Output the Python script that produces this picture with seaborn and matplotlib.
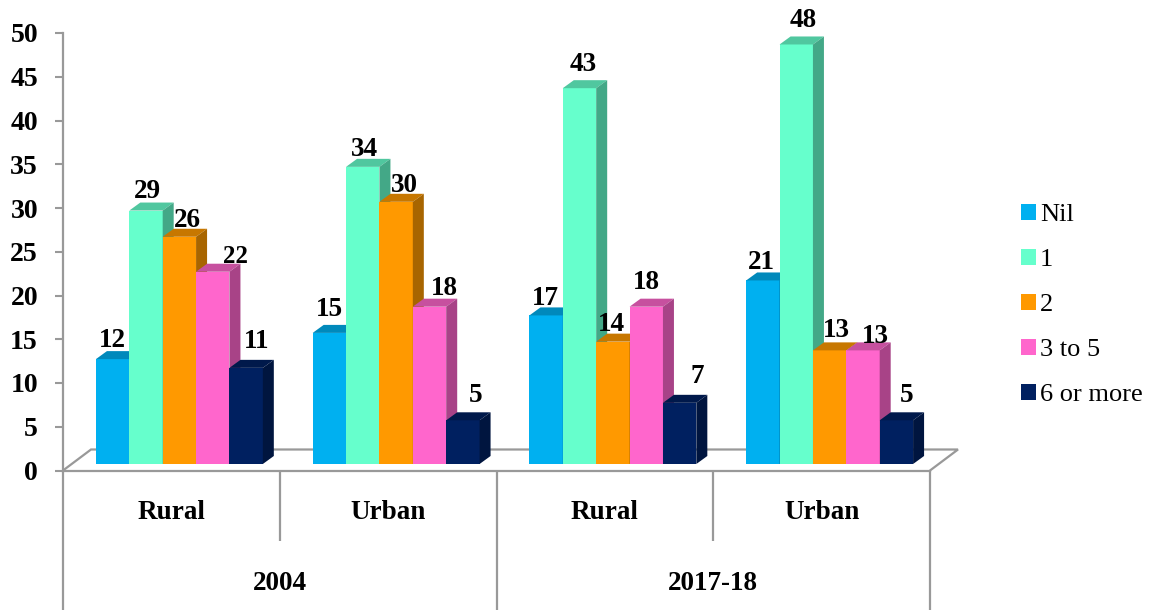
import matplotlib
matplotlib.use('Agg')
import matplotlib.pyplot as plt
from matplotlib.patches import Polygon
from matplotlib.colors import to_rgb
import pandas as pd
import seaborn as sns

# Values
places = ['Rural', 'Urban', 'Rural', 'Urban']
years = ['2004', '2017-18']
groups = ['2004 Rural', '2004 Urban', '2017 Rural', '2017 Urban']
nil = [12, 15, 17, 21]
one = [29, 34, 43, 48]
two = [26, 30, 14, 13]
three_to_five = [22, 18, 18, 13]
six_or_more = [11, 5, 7, 5]
series = ['Nil', '1', '2', '3 to 5', '6 or more']
colors = ['#00B0F0', '#66FFCC', '#FF9900', '#FF66CC', '#002060']
y_ticks = list(range(0, 55, 5))

# Data label nudges from the bar top centre, in pixels, per series then group
label_nudge = [
    [(0, 19), (0, 23), (-1, 17), (-1, 18)],
    [(1, 19), (2, 17), (4, 24), (7, 24)],
    [(8, 16), (8, 16), (-1, 17), (7, 20)],
    [(23, 15), (15, 18), (0, 24), (12, 14)],
    [(10, 26), (13, 25), (18, 26), (10, 25)],
]

W, H = 1153, 610
GRAY = '#999999'
FS = 19.5
DEPTH_X, DEPTH_Y = 11, 8  # bar depth, pixels

df = pd.DataFrame({'group': groups, 'Nil': nil, '1': one, '2': two,
                   '3 to 5': three_to_five, '6 or more': six_or_more})
df = df.melt(id_vars='group', var_name='series', value_name='value')

sns.set_theme(style='white')
plt.rcParams['font.family'] = ['Liberation Serif', 'DejaVu Serif']

fig = plt.figure(figsize=(W / 100, H / 100), dpi=100)


def px_axes(left, right, top, bottom):
    return fig.add_axes([left / W, 1 - bottom / H, (right - left) / W, (bottom - top) / H])


# Front frame: the value axis and the two-level category axis
frame = px_axes(63, 930, 33, 470.5)
frame.set_xlim(-0.5, 3.5)
frame.set_ylim(0, 50)
frame.patch.set_alpha(0)
sns.despine(ax=frame, top=True, right=True)
for side in ['left', 'bottom']:
    frame.spines[side].set_color(GRAY)
    frame.spines[side].set_linewidth(1.6)
frame.set_yticks(y_ticks)
frame.set_yticklabels(y_ticks, fontsize=20, fontweight='bold', color='black')
frame.tick_params(axis='y', left=True, length=6, width=1.5, color=GRAY, pad=12)
frame.set_xticks(range(4))
frame.set_xticklabels(places, fontsize=FS, fontweight='bold', color='black')
frame.tick_params(axis='x', bottom=False, pad=15)
frame.set_ylabel('')

# Separators under the axis
xt = frame.get_xaxis_transform()
ax_h = 437.5
for x, depth in [(-0.5, 140), (0.5, 70), (1.5, 140), (2.5, 70), (3.5, 140)]:
    frame.plot([x, x], [0, -depth / ax_h], transform=xt, color=GRAY, lw=1.6,
               clip_on=False, solid_capstyle='butt')
for x, year in zip([0.5, 2.5], years):
    frame.text(x, -113 / ax_h, year, transform=xt, ha='center', va='center',
               fontsize=FS, fontweight='bold', color='black')

# Floor outline going back from the front axis
slant_x = 28 / 216.75
slant_y = 21 / 8.75
frame.plot([-0.5, -0.5 + slant_x, 3.5 + slant_x, 3.5], [0, slant_y, slant_y, 0],
           color=GRAY, lw=1.6, clip_on=False, solid_joinstyle='miter')

# Bars sit a little behind the front frame
ax = px_axes(71, 938, 27, 464)
sns.barplot(data=df, x='group', y='value', hue='series', hue_order=series, palette=colors,
            saturation=1, width=0.77, gap=0, linewidth=0, errorbar=None, ax=ax)
ax.set_xlim(-0.5, 3.5)
ax.set_ylim(0, 50)

unit_x = 216.75
unit_y = 437 / 50
dx = DEPTH_X / unit_x
dy = DEPTH_Y / unit_y


def shade(color, k):
    return tuple(c * k for c in to_rgb(color))


for j, container in enumerate(ax.containers):
    for i, bar in enumerate(container):
        x0 = bar.get_x()
        x1 = x0 + bar.get_width()
        h = bar.get_height()
        bar.set_zorder(3 + j)
        ax.add_patch(Polygon([(x0, h), (x1, h), (x1 + dx, h + dy), (x0 + dx, h + dy)],
                             closed=True, fc=shade(colors[j], 0.78), ec='none',
                             zorder=3 + j, clip_on=False))
        ax.add_patch(Polygon([(x1, 0), (x1 + dx, dy), (x1 + dx, h + dy), (x1, h)],
                             closed=True, fc=shade(colors[j], 0.66), ec='none',
                             zorder=3 + j, clip_on=False))
        ax.annotate(f'{h:.0f}', xy=((x0 + x1) / 2, h), xytext=label_nudge[j][i],
                    textcoords='offset pixels', ha='center', va='center',
                    fontsize=18 if (j, i) == (3, 0) else FS, fontweight='bold',
                    color='black', zorder=20, annotation_clip=False)

sns.move_legend(ax, loc='center left', bbox_to_anchor=(1021 / W, 1 - 305 / H),
                bbox_transform=fig.transFigure, title=None, frameon=False, fontsize=19,
                labelcolor='black', handlelength=0.55, handleheight=0.55, handletextpad=0.16,
                labelspacing=0.86, borderpad=0, borderaxespad=0)
ax.axis('off')

fig.savefig('out.png', dpi=100)
